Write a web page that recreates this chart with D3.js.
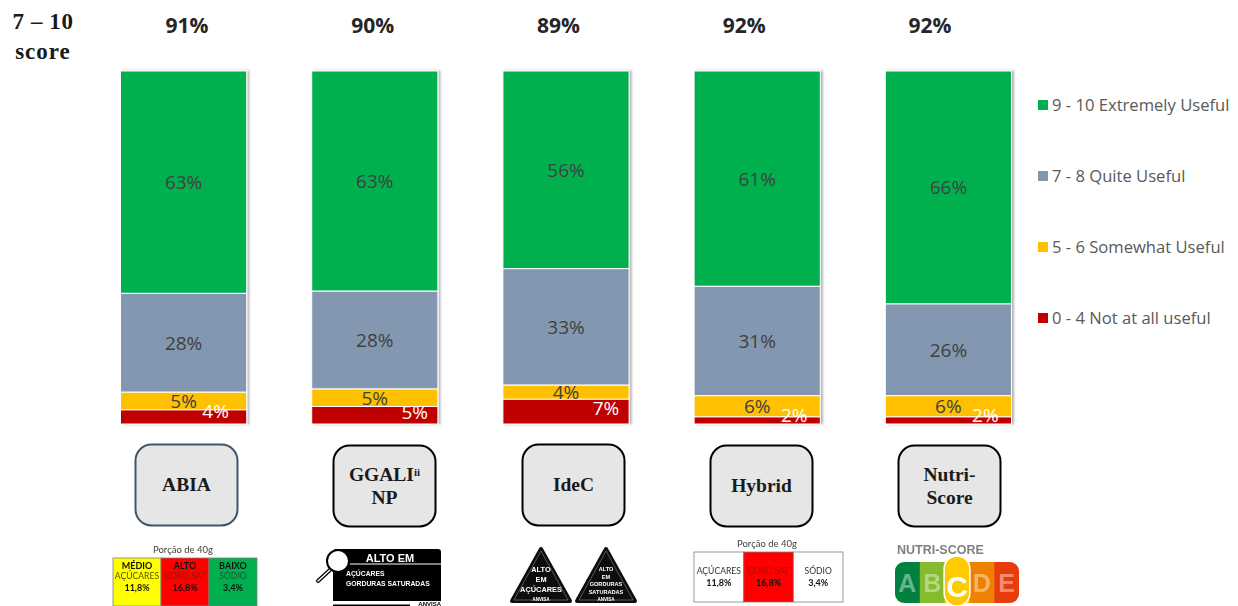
<!DOCTYPE html>
<html>
<head>
<meta charset="utf-8">
<script src="https://cdnjs.cloudflare.com/ajax/libs/d3/7.8.5/d3.min.js"></script>
<style>
    html, body { margin: 0; padding: 0; background: #fff; }
    svg { display: block; }
    text { font-family: "Open Sans", sans-serif; }
    .serif { font-family: "Liberation Serif", serif; font-weight: bold; fill: #1a1a1a; }
    .logo text { font-family: "Liberation Sans", sans-serif; }
    .logo text.soft { font-family: Lato, sans-serif; }
</style>
</head>
<body>
<svg id="canvas" width="1238" height="606"></svg>
<script>
const categories = ["ABIA", "GGALI", "IdeC", "Hybrid", "Nutri-Score"];
const totals = ["91%", "90%", "89%", "92%", "92%"];

// one list per response band, same order as categories
const extremely = [63, 63, 56, 61, 66];
const quite = [28, 28, 33, 31, 26];
const somewhat = [5, 5, 4, 6, 6];
const notAtAll = [4, 5, 7, 2, 2];

const seriesKeys = ["extremely", "quite", "somewhat", "notAtAll"];
const seriesNames = [
    "9 - 10 Extremely Useful",
    "7 - 8 Quite Useful",
    "5 - 6 Somewhat Useful",
    "0 - 4 Not at all useful",
];
const seriesColors = ["#00b050", "#8497b0", "#ffc000", "#c00000"];

const svg = d3.select("#canvas");

const rows = categories.map((c, i) => ({
    category: c,
    extremely: extremely[i],
    quite: quite[i],
    somewhat: somewhat[i],
    notAtAll: notAtAll[i],
}));

const x = d3
    .scaleBand()
    .domain(categories)
    .range([120.5, 1011.5])
    .paddingInner(0.34)
    .paddingOuter(0);
const y = d3.scaleLinear().domain([0, 1]).range([71, 424]);

// top band first, so bars hang down from the top of the plot
const stacked = d3
    .stack()
    .keys(seriesKeys)
    .offset(d3.stackOffsetExpand)(rows);

const defs = svg.append("defs");
const shadow = defs.append("filter").attr("id", "barShadow").attr("x", "-5%").attr("width", "112%");
shadow.append("feDropShadow")
    .attr("dx", 2).attr("dy", 0).attr("stdDeviation", 1)
    .attr("flood-color", "#000").attr("flood-opacity", 0.3);
defs.append("filter").attr("id", "soft").append("feGaussianBlur").attr("stdDeviation", 0.35);

// bars
const barGroup = svg.append("g").attr("filter", "url(#barShadow)");
stacked.forEach((layer, s) => {
    barGroup
        .selectAll(null)
        .data(layer)
        .enter()
        .append("rect")
        .attr("x", (d) => x(d.data.category))
        .attr("y", (d) => y(d[0]))
        .attr("width", x.bandwidth())
        .attr("height", (d) => y(d[1]) - y(d[0]))
        .attr("fill", seriesColors[s])
        .attr("stroke", "#fff")
        .attr("stroke-width", 1);
});

// value labels, the red band is moved off centre like in the original
const redLabelDx = [32, 40, 40, 37, 37];
const redLabelDy = [-6, -3, -3, -5, -5];
stacked.forEach((layer, s) => {
    const isRed = seriesKeys[s] === "notAtAll";
    svg.append("g")
        .selectAll("text")
        .data(layer)
        .enter()
        .append("text")
        .attr("x", (d, i) => x(d.data.category) + x.bandwidth() / 2 + (isRed ? redLabelDx[i] : 0))
        .attr("y", (d, i) => (y(d[0]) + y(d[1])) / 2 + (isRed ? redLabelDy[i] : 0))
        .attr("dy", "0.36em")
        .attr("text-anchor", "middle")
        .attr("font-size", 19)
        .attr("fill", isRed ? "#fff" : "#404040")
        .text((d) => d.data[seriesKeys[s]] + "%");
});

// totals on top, they sit on their own spacing and drift away from the bars
const totalX = d3.scalePoint().domain(categories).range([187, 930]);
svg.append("g")
    .selectAll("text")
    .data(categories)
    .enter()
    .append("text")
    .attr("x", (d) => totalX(d))
    .attr("y", 26)
    .attr("dy", "0.35em")
    .attr("text-anchor", "middle")
    .attr("font-size", 21)
    .attr("font-weight", "bold")
    .attr("fill", "#262626")
    .text((d, i) => totals[i]);

svg.append("text").attr("class", "serif").attr("x", 43).attr("y", 29)
    .attr("text-anchor", "middle").attr("font-size", 23).attr("letter-spacing", 0.6).text("7 – 10");
svg.append("text").attr("class", "serif").attr("x", 43).attr("y", 59)
    .attr("text-anchor", "middle").attr("font-size", 23).attr("letter-spacing", 1).text("score");

// legend
const legendY = d3.scalePoint().domain(seriesNames).range([105, 318]);
const legend = svg.append("g")
    .selectAll("g")
    .data(seriesNames)
    .enter()
    .append("g")
    .attr("transform", (d) => `translate(1038, ${legendY(d)})`);
legend.append("rect").attr("x", 0).attr("y", -5).attr("width", 10).attr("height", 10)
    .attr("fill", (d, i) => seriesColors[i]);
legend.append("text").attr("x", 14).attr("dy", "0.35em")
    .attr("font-size", 16.6).attr("fill", "#595959").text((d) => d);

// system name boxes
const boxes = [
    { left: 135, top: 444, stroke: "#44546a", lines: ["ABIA"] },
    { left: 333, top: 445, stroke: "#000", lines: ["GGALI", "NP"], sup: "ii" },
    { left: 522, top: 444, stroke: "#000", lines: ["IdeC"] },
    { left: 710, top: 445, stroke: "#000", lines: ["Hybrid"] },
    { left: 898, top: 445, stroke: "#000", lines: ["Nutri-", "Score"] },
];
boxes.forEach((b) => {
    const g = svg.append("g").attr("transform", `translate(${b.left}, ${b.top})`);
    g.append("rect").attr("x", 0.5).attr("y", 0.5).attr("width", 102).attr("height", 81).attr("rx", 16)
        .attr("fill", "#e6e6e6").attr("stroke", b.stroke).attr("stroke-width", 2);
    b.lines.forEach((line, i) => {
        const t = g.append("text").attr("class", "serif").attr("x", 51.5)
            .attr("y", 40.5 + (i - (b.lines.length - 1) / 2) * 23).attr("dy", "0.35em")
            .attr("text-anchor", "middle").attr("font-size", 19.5).text(line);
        if (i === 0 && b.sup) {
            t.append("tspan").attr("dy", "-0.4em").attr("font-size", 11).text(b.sup);
        }
    });
});

// front of pack label pictures
const logos = svg.append("g").attr("class", "logo").attr("filter", "url(#soft)");

function label(g, str, px, py, size, fill, weight, anchor) {
    return g.append("text").attr("x", px).attr("y", py).attr("font-size", size)
        .attr("fill", fill).attr("font-weight", weight || "normal")
        .attr("text-anchor", anchor || "middle").text(str);
}

function traffic(cells, left, top, w, h, cx, titleY) {
    const g = logos.append("g");
    label(g, "Porção de 40g", cx, titleY, 9.5, "#404040").attr("class", "soft");
    const cw = w / cells.length;
    cells.forEach((c, i) => {
        g.append("rect").attr("x", left + i * cw).attr("y", top).attr("width", cw).attr("height", h)
            .attr("fill", c.fill).attr("stroke", "#7f7f7f").attr("stroke-width", 0.8);
        const mx = left + i * cw + cw / 2;
        const base = c.head ? top + 10.5 : top + 22;
        if (c.head) label(g, c.head, mx, base, 9, "#111", "bold").attr("class", "soft");
        label(g, c.name, mx, base + (c.head ? 10 : 0), 8.6, c.nameColor || "#333").attr("class", "soft");
        label(g, c.value, mx, base + (c.head ? 22 : 12), 9, "#111", "bold").attr("class", "soft");
    });
}

traffic([
    { fill: "#ffff00", head: "MÉDIO", name: "AÇÚCARES", value: "11,8%", nameColor: "#555500" },
    { fill: "#ff0000", head: "ALTO", name: "GORD SAT", value: "16,8%", nameColor: "#a01000" },
    { fill: "#00b050", head: "BAIXO", name: "SÓDIO", value: "3,4%", nameColor: "#0a5c30" },
], 113, 558, 144, 48, 183, 553);

traffic([
    { fill: "#fff", name: "AÇÚCARES", value: "11,8%" },
    { fill: "#ff0000", name: "GORD SAT", value: "16,8%", nameColor: "#a01000" },
    { fill: "#fff", name: "SÓDIO", value: "3,4%" },
], 694, 552, 149, 50, 767, 547);

// magnifier label
const lupe = logos.append("g");
lupe.append("path").attr("d", "M333 552 Q333 549 336 549 L438 549 Q441 549 441 552 L441 601 L333 601 Z").attr("fill", "#000");
lupe.append("rect").attr("x", 333).attr("y", 604.5).attr("width", 77).attr("height", 2).attr("fill", "#000");
lupe.append("line").attr("x1", 350).attr("y1", 564).attr("x2", 441).attr("y2", 564).attr("stroke", "#fff").attr("stroke-width", 1);
lupe.append("line").attr("x1", 331).attr("y1", 569).attr("x2", 318).attr("y2", 581).attr("stroke", "#000").attr("stroke-width", 4).attr("stroke-linecap", "round");
lupe.append("line").attr("x1", 331).attr("y1", 569).attr("x2", 318).attr("y2", 581).attr("stroke", "#fff").attr("stroke-width", 1.5).attr("stroke-linecap", "round");
lupe.append("circle").attr("cx", 338).attr("cy", 561).attr("r", 11).attr("fill", "#fff").attr("stroke", "#000").attr("stroke-width", 2);
label(lupe, "ALTO EM", 390, 562, 11, "#fff", "bold");
label(lupe, "AÇÚCARES", 346, 576, 6.8, "#fff", "bold", "start");
label(lupe, "GORDURAS SATURADAS", 346, 586, 6.8, "#fff", "bold", "start");
label(lupe, "ANVISA", 441, 605.5, 6, "#000", "bold", "end");

// triangle labels
function triangle(cx, lines) {
    const g = logos.append("g");
    g.append("path").attr("d", `M${cx} 549 L${cx + 29} 601 L${cx - 29} 601 Z`)
        .attr("fill", "#111").attr("stroke", "#111").attr("stroke-width", 4).attr("stroke-linejoin", "round");
    g.append("path").attr("d", `M${cx} 551 L${cx + 27} 600 L${cx - 27} 600 Z`)
        .attr("fill", "none").attr("stroke", "#bbb").attr("stroke-width", 0.4).attr("stroke-linejoin", "round");
    lines.forEach((l) => label(g, l.text, cx, l.y, l.size, "#fff", "bold"));
    label(g, "ANVISA", cx, 601, 4.5, "#fff", "bold");
}
triangle(541, [{ text: "ALTO", y: 572, size: 7.4 }, { text: "EM", y: 582, size: 7.4 }, { text: "AÇÚCARES", y: 592, size: 7.4 }]);
triangle(606, [{ text: "ALTO", y: 571, size: 5.6 }, { text: "EM", y: 579, size: 5.6 }, { text: "GORDURAS", y: 586, size: 5.6 }, { text: "SATURADAS", y: 594, size: 5.6 }]);

// nutri-score
const nutri = logos.append("g");
const grades = ["A", "B", "C", "D", "E"];
const gradeColors = ["#038141", "#85bb2f", "#fecb02", "#ee8100", "#e63e11"];
const gradeX = d3.scaleBand().domain(grades).range([895, 1019]);
label(nutri, "NUTRI-SCORE", 897, 554, 12.5, "#808080", "bold", "start");
nutri.append("clipPath").attr("id", "nutriClip").append("rect")
    .attr("x", 895).attr("y", 562).attr("width", 124).attr("height", 41).attr("rx", 9);
nutri.append("g").attr("clip-path", "url(#nutriClip)")
    .selectAll("rect").data(grades).enter().append("rect")
    .attr("x", (d) => gradeX(d)).attr("y", 562)
    .attr("width", gradeX.bandwidth() + 0.5).attr("height", 41)
    .attr("fill", (d, i) => gradeColors[i]);
nutri.append("rect").attr("x", gradeX("C") - 0.5).attr("y", 556).attr("width", gradeX.bandwidth() + 1).attr("height", 50).attr("rx", 13)
    .attr("fill", "#fecb02").attr("stroke", "#fff").attr("stroke-width", 1.5);
grades.forEach((d) => {
    label(nutri, d, gradeX(d) + gradeX.bandwidth() / 2, d === "C" ? 597 : 592, d === "C" ? 30 : 25,
        d === "C" ? "#fff" : "rgba(255,255,255,0.4)", "bold");
});
</script>
</body>
</html>
